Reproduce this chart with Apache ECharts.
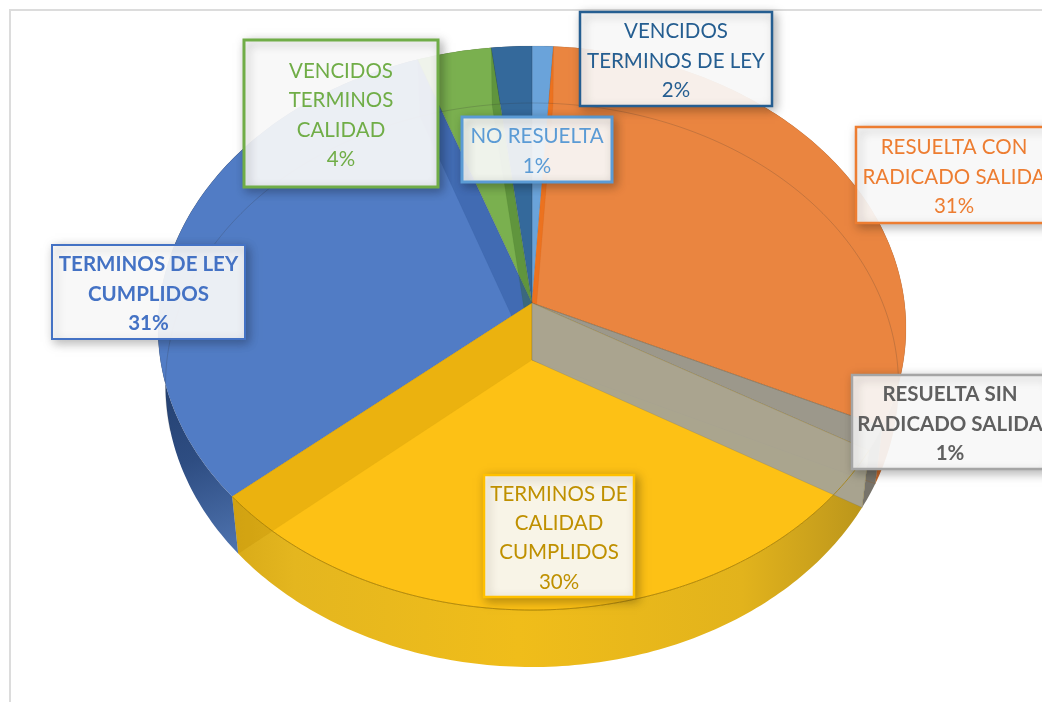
<!DOCTYPE html>
<html>
<head>
<meta charset="utf-8">
<title>Pie</title>
<style>
  html, body { margin: 0; padding: 0; background: #fff; }
  #main { width: 1042px; height: 702px; }
</style>
<script src="https://cdn.jsdelivr.net/npm/echarts@6/dist/echarts.min.js"></script>
</head>
<body>
<div id="main"></div>
<script>
// slices, clockwise from 12 o'clock
var names = [
  'NO RESUELTA',
  'RESUELTA CON\nRADICADO SALIDA',
  'RESUELTA SIN\nRADICADO SALIDA',
  'TERMINOS DE\nCALIDAD\nCUMPLIDOS',
  'TERMINOS DE LEY\nCUMPLIDOS',
  'VENCIDOS\nTERMINOS\nCALIDAD',
  'VENCIDOS\nTERMINOS DE LEY'
];
var values = [1.0, 31.0, 1.4, 30.3, 30.9, 3.5, 1.9];

// styles per slice
var faceColors = ['#6aa3da', '#ea8540', '#a19d91', '#fdc115', '#517cc5', '#7ab04f', '#34699b'];
var textColors = ['#5b9bd5', '#ed7d31', '#5f5f5f', '#bf9000', '#4472c4', '#70ad47', '#255e91'];
var borderColors = ['#5b9bd5', '#ed7d31', '#a5a5a5', '#ffc000', '#4472c4', '#70ad47', '#255e91'];
var borderWidths = [3, 2.5, 2.5, 2.5, 2, 3, 2.5];
var bold = [false, false, true, false, true, false, false];
// label box: left, top, width, height
var boxes = [
  [462, 117, 150, 65],
  [856, 127, 196, 96],
  [852, 375, 196, 94],
  [484, 475, 150, 122],
  [52, 245, 193, 94],
  [244, 40, 194, 147],
  [580, 12, 192, 94]
];

// 3d look of the pie
var cx = 532, cy = 303, depth = 57;
var scaleX = 372.5, scaleY = 279.8, persp = -0.0887, floorX = 0.98;

var starts = [], ends = [];
values.reduce(function (sum, v, i) {
  starts[i] = sum;
  ends[i] = sum + v;
  return sum + v;
}, 0);

// percent round the pie -> pixel; level 0 is the top face, 1 the floor
function rim(pct, level) {
  var a = pct / 100 * Math.PI * 2;
  var u = Math.sin(a), v = -Math.cos(a);
  var d = 1 + persp * v;
  var x = scaleX * u / d, y = scaleY * v / d;
  return level ? [cx + x * floorX, cy + y + depth] : [cx + x, cy + y];
}
function apex(level) {
  return [cx, cy + (level ? depth : 0)];
}
function arc(from, to, level) {
  var pts = [];
  var n = Math.max(2, Math.ceil(Math.abs(to - from) * 4));
  for (var i = 0; i <= n; i++) pts.push(rim(from + (to - from) * i / n, level));
  return pts;
}
function gradient(x, y, x2, y2, stops) {
  return {
    type: 'linear', global: true, x: x, y: y, x2: x2, y2: y2,
    colorStops: stops.map(function (s) { return { offset: s[0], color: s[1] }; })
  };
}

// outer wall of each slice
var rimWalls = [
  '#3f6d9c',
  '#c4662a',
  '#77736a',
  gradient(230, 0, 870, 0, [[0, '#d8aa18'], [0.1, '#e4b61f'], [0.45, '#f0bd1a'], [0.8, '#e2b31c'], [0.93, '#c89f1c'], [1, '#b8941a']]),
  gradient(160, 340, 237, 553, [[0, '#1f3a68'], [0.55, '#2e4d82'], [1, '#4f74b0']]),
  '#5e8f3c',
  '#264f78'
];

// walls between the slices seen through the pie: percent, fill, edge
var backWalls = [
  [ends[0], 'rgba(236,112,28,0.9)', 'rgba(200,90,20,0.2)'],
  [ends[4], 'rgba(30,70,140,0.3)', 'rgba(30,60,120,0.1)'],
  [ends[5], 'rgba(50,100,30,0.35)', 'rgba(40,80,30,0.1)'],
  [ends[6], 'rgba(20,55,105,0.38)', 'rgba(20,50,100,0.1)']
];
var frontWalls = [
  [ends[1], 'rgba(120,110,90,0.1)', 'rgba(140,100,60,0.55)'],
  [ends[2], 'rgba(167,163,148,0.96)', 'rgba(120,115,100,0.35)'],
  [ends[3], 'rgba(190,140,0,0.28)', 'rgba(150,120,0,0.08)']
];
var frontSlices = [2, 3];

function polygonSeries(count, build) {
  return {
    type: 'custom',
    coordinateSystem: 'none',
    silent: true,
    animation: false,
    data: new Array(count).fill(0).map(function (z, i) { return [i]; }),
    renderItem: function (params) {
      return build(params.dataIndex);
    }
  };
}

function faceItem(i) {
  return {
    type: 'polygon',
    shape: { points: [apex(0)].concat(arc(starts[i], ends[i], 0)) },
    style: { fill: faceColors[i], stroke: 'rgba(70,60,40,0.16)', lineWidth: 0.6 }
  };
}

function wallItem(w) {
  return {
    type: 'polygon',
    shape: { points: [apex(0), rim(w[0], 0), rim(w[0], 1), apex(1)] },
    style: { fill: w[1], stroke: w[2], lineWidth: 0.8 }
  };
}

function labelItem(i) {
  var b = boxes[i];
  return {
    type: 'group',
    children: [{
      type: 'rect',
      shape: { x: b[0], y: b[1], width: b[2], height: b[3] },
      style: {
        fill: 'rgba(255,255,255,0.9)',
        stroke: borderColors[i],
        lineWidth: borderWidths[i],
        shadowBlur: 10,
        shadowOffsetX: 3,
        shadowOffsetY: 3,
        shadowColor: 'rgba(0,0,0,0.3)'
      }
    }, {
      type: 'text',
      style: {
        text: names[i] + '\n' + Math.round(values[i]) + '%',
        x: b[0] + b[2] / 2,
        y: b[1] + b[3] / 2 + 2,
        align: 'center',
        verticalAlign: 'middle',
        lineHeight: 29.3,
        fill: textColors[i],
        font: (bold[i] ? 'bold ' : '') + '20.5px Lato, "Open Sans", sans-serif'
      }
    }]
  };
}

var chart = echarts.init(document.getElementById('main'), null, { renderer: 'canvas' });
chart.setOption({
  animation: false,
  backgroundColor: '#fff',
  graphic: [{
    type: 'rect',
    z: -1,
    shape: { x: 10, y: 10, width: 1200, height: 900 },
    style: { fill: '#fff', stroke: '#dcdcdc', lineWidth: 2 }
  }],
  series: [
    // outer walls
    polygonSeries(values.length, function (i) {
      return {
        type: 'polygon',
        shape: { points: arc(starts[i], ends[i], 0).concat(arc(ends[i], starts[i], 1)) },
        style: { fill: rimWalls[i] }
      };
    }),
    // top face
    polygonSeries(values.length, faceItem),
    polygonSeries(backWalls.length, function (i) { return wallItem(backWalls[i]); }),
    // the front slices sit over the back walls
    polygonSeries(frontSlices.length, function (i) { return faceItem(frontSlices[i]); }),
    polygonSeries(frontWalls.length, function (i) { return wallItem(frontWalls[i]); }),
    // floor edge seen through the back, front edge of the top face
    polygonSeries(2, function (i) {
      return {
        type: 'polyline',
        shape: {
          points: i === 0 ? arc(71, 128, 1) : arc(ends[2], ends[3], 0)
        },
        style: {
          fill: 'none',
          stroke: i === 0 ? 'rgba(50,50,50,0.2)' : 'rgba(165,125,0,0.75)',
          lineWidth: 1
        }
      };
    }),
    polygonSeries(values.length, labelItem)
  ]
});
</script>
</body>
</html>
